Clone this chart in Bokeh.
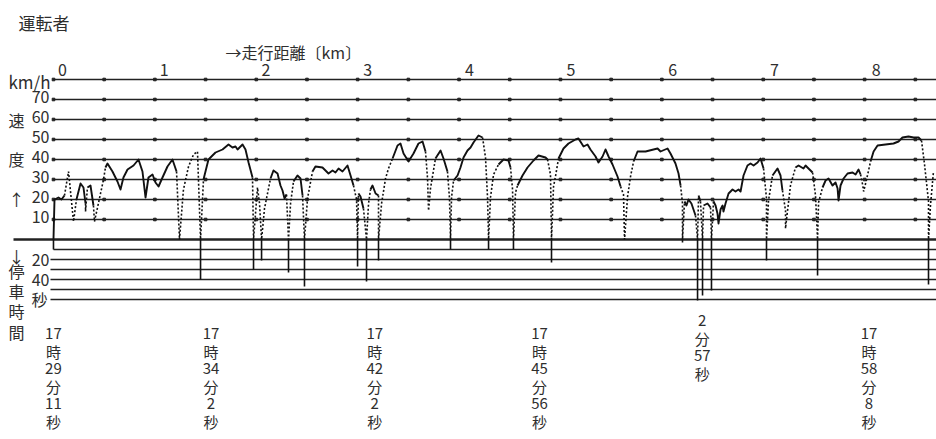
import re
import numpy as np
from bokeh.plotting import figure
from bokeh.models import Range1d
from bokeh.core.properties import value
from bokeh.embed import file_html
from bokeh.resources import INLINE

# ---------------- data ----------------
title_text = "運転者"
distance_title = "→走行距離〔km〕"
km_ticks = [0, 1, 2, 3, 4, 5, 6, 7, 8]
speed_ticks = [70, 60, 50, 40, 30, 20, 10]
speed_lines = [80, 70, 60, 50, 40, 30, 20, 10]
stop_ticks = [20, 40]
stop_lines = [10, 20, 30, 40, 50, 60]

trace_km = [
    -0.069, -0.059, -0.020, 0.010, 0.039, 0.079, 0.118, 0.128, 0.157, 0.197,
    0.226, 0.246, 0.246, 0.265, 0.295, 0.324, 0.334, 0.364, 0.423, 0.442,
    0.462, 0.511, 0.560, 0.590, 0.619, 0.659, 0.718, 0.767, 0.806, 0.836,
    0.865, 0.905, 0.934, 0.964, 1.003, 1.052, 1.101, 1.141, 1.170, 1.209,
    1.259, 1.308, 1.347, 1.377, 1.406, 1.455, 1.524, 1.593, 1.652, 1.691,
    1.721, 1.741, 1.790, 1.819, 1.849, 1.888, 1.898, 1.937, 1.957, 1.977,
    2.006, 2.065, 2.094, 2.134, 2.163, 2.183, 2.203, 2.222, 2.242, 2.262,
    2.291, 2.330, 2.360, 2.380, 2.399, 2.429, 2.478, 2.507, 2.576, 2.635,
    2.675, 2.704, 2.734, 2.773, 2.822, 2.852, 2.881, 2.911, 2.921, 2.930,
    2.950, 2.979, 3.009, 3.029, 3.048, 3.068, 3.098, 3.127, 3.127, 3.157,
    3.196, 3.225, 3.265, 3.314, 3.343, 3.373, 3.422, 3.471, 3.520, 3.560,
    3.589, 3.609, 3.619, 3.638, 3.687, 3.737, 3.766, 3.805, 3.825, 3.835,
    3.845, 3.865, 3.904, 3.933, 3.963, 4.002, 4.032, 4.061, 4.110, 4.150,
    4.179, 4.199, 4.209, 4.228, 4.258, 4.307, 4.356, 4.405, 4.425, 4.445,
    4.454, 4.474, 4.494, 4.543, 4.592, 4.651, 4.700, 4.769, 4.789, 4.818,
    4.828, 4.848, 4.867, 4.897, 4.946, 4.995, 5.064, 5.093, 5.143, 5.182,
    5.211, 5.261, 5.290, 5.330, 5.359, 5.389, 5.428, 5.477, 5.507, 5.536,
    5.546, 5.576, 5.605, 5.635, 5.674, 5.753, 5.831, 5.871, 5.900, 5.969,
    5.998, 6.047, 6.077, 6.097, 6.116, 6.116, 6.136, 6.155, 6.175, 6.204,
    6.224, 6.244, 6.264, 6.274, 6.293, 6.313, 6.323, 6.362, 6.392, 6.401,
    6.421, 6.441, 6.460, 6.470, 6.490, 6.510, 6.519, 6.539, 6.569, 6.608,
    6.637, 6.667, 6.687, 6.716, 6.755, 6.785, 6.815, 6.854, 6.883, 6.913,
    6.942, 6.942, 6.962, 7.001, 7.050, 7.080, 7.099, 7.129, 7.129, 7.149,
    7.178, 7.227, 7.257, 7.306, 7.326, 7.355, 7.395, 7.424, 7.444, 7.454,
    7.493, 7.523, 7.552, 7.591, 7.621, 7.641, 7.650, 7.670, 7.700, 7.739,
    7.788, 7.818, 7.847, 7.867, 7.887, 7.897, 7.926, 7.965, 7.995, 8.034,
    8.112, 8.191, 8.240, 8.279, 8.338, 8.388, 8.437, 8.466, 8.496, 8.535,
    8.535, 8.555, 8.584,
]
trace_kmh = [
    0, 20, 21, 20, 22, 34, 14, 9, 20, 28,
    26, 18, 14, 26, 27, 17, 9, 16, 30, 36,
    38, 34, 29, 25, 31, 35, 37, 40, 34, 21,
    31, 32.5, 28.5, 26.5, 31, 36.5, 40, 34, 0, 25,
    36.5, 42.5, 44, 0, 30, 40, 43.5, 45, 47.5, 46,
    46.5, 45, 47.5, 45, 38.5, 31, 0, 26, 18, 0,
    15.5, 30.5, 34.5, 33, 27, 24.5, 20.5, 22.5, 0, 18,
    29, 32, 30.5, 22, 0, 20.5, 34, 36.5, 36, 33,
    34.5, 33.5, 35.5, 34, 37, 32, 27, 20, 0, 23,
    21.5, 15.5, 0, 18, 25, 27, 23, 22, 0, 18,
    30.5, 35.5, 40.5, 47, 48, 43, 39, 43, 48, 49,
    44, 30.5, 14.5, 25.5, 40.5, 44.5, 40.5, 34, 20.5, 0,
    21, 29.5, 32, 36, 41, 44.5, 46, 48.5, 52, 51,
    41, 21, 0, 21, 32.5, 37.5, 40, 39.5, 36, 25,
    0, 23.5, 27, 32, 36, 39.5, 42, 41, 40, 32.5,
    0, 26.5, 31.5, 40.5, 45.5, 48, 50, 50.5, 46.5, 47.5,
    45, 41.5, 38.5, 41.5, 45, 41.5, 37.5, 31.5, 26.5, 22.5,
    0, 21.5, 31.5, 39, 44, 44, 45, 45.5, 44, 45.5,
    43, 38, 33, 27, 18, 0, 19, 17, 20, 18,
    15, 12, 0, 22, 19, 0, 17, 18, 16, 0,
    19, 17, 13, 8, 15, 17, 14, 18, 23, 25,
    24, 25, 24, 32, 37, 38, 37, 38.5, 40.5, 35.5,
    20.5, 0, 19.5, 32, 35.5, 32, 24.5, 14.5, 5.5, 14.5,
    27, 36, 37, 35.5, 37, 35.5, 33.5, 22, 0, 18.5,
    26, 29.5, 30.5, 27, 28.5, 25.5, 19.5, 27, 30.5, 33,
    33.5, 32.5, 35, 32.5, 27.5, 24, 30, 39, 44, 47,
    47.5, 48, 49, 51, 51.5, 51, 51, 49.5, 37.5, 19,
    0, 17.5, 34,
]
# pen of the stroke from each point to the next: S = solid, D = dotted
trace_pen = (
    "SSSSDDDDSS" "SDDSSDDDDS" "SSSSSSSSSS" "SSSSSSSDDD" "DDDDSSSSSS"
    "SSSSSDDDDD" "DSSSSSSDDD" "SSSDDDSSSS" "SSSSSSDDDS" "SDDDSSSDDD"
    "DDSSSSSSSS" "DDDDSSSDDD" "DSSSSSSSSD" "DDDDDSSSDD" "DDSSSSSSDD"
    "DDDSSSSSSS" "SSSSSSSSDD" "DDDSSSSSSS" "SSSDDDSSSS" "SDDSDDSSDD"
    "SSSSSSSSSS" "SSSSSSSSSD" "DDDSSSDDDD" "DSSSSSDDDD" "SSSSSSSSSS"
    "SSSDDDDSSS" "SSSSSSSDDD" "DDD"
)

stop_km = [-0.069, 1.377, 1.898, 1.977, 2.242, 2.399, 2.921, 3.009, 3.127, 3.835,
           4.209, 4.454, 4.828, 6.116, 6.264, 6.313, 6.401, 6.942, 7.444, 8.535]
stop_sec = [10, 40, 30, 21, 33, 47, 27, 42, 21, 10,
            10, 10, 23, 3, 177, 56, 51, 21, 36, 45]

time_labels = ["17時29分11秒", "17時34分2秒", "17時42分2秒", "17時45分56秒", "2分57秒", "17時58分8秒"]
time_label_km = [-0.07, 1.48, 3.09, 4.71, 6.31, 7.95]

assert len(trace_km) == len(trace_kmh) == len(trace_pen)

# ---------------- layout helpers ----------------
PX_PER_KM = 101.7   # page pixels per km
X0 = 60             # page x of km 0
Y0 = 239            # page y of 0 km/h
W, H = 936, 439

def kx(X):
    return (X - X0) / PX_PER_KM

def vy(Y):
    return (Y0 - Y) / 2.0

FONT = value("Noto Sans CJK JP")
INK = "#222222"
TXT = "#2e2e2e"

p = figure(width=W, height=H,
           x_range=Range1d(kx(0), kx(W)), y_range=Range1d(vy(H), vy(0)),
           output_backend="svg", toolbar_location=None,
           x_axis_location=None, y_axis_location=None,
           min_border=0, outline_line_color=None, background_fill_color="white")
p.grid.visible = False

x_end = kx(940)

# speed grid lines
p.segment(x0=[kx(53)] * len(speed_lines), x1=[x_end] * len(speed_lines),
          y0=speed_lines, y1=speed_lines, line_color=INK, line_width=1.7)
# zero line
p.segment(x0=[kx(13)], x1=[x_end], y0=[0], y1=[0], line_color=INK, line_width=2.6)
# stop-time lines (10 s = 5 km/h units)
stop_y = [-s / 2.0 for s in stop_lines]
stop_x0 = [kx(53) if s == 10 else kx(50) for s in stop_lines]
p.segment(x0=stop_x0, x1=[x_end] * len(stop_lines), y0=stop_y, y1=stop_y,
          line_color=INK, line_width=1.7)

# small marks along speed lines
mark_x = np.arange(-0.069, 8.6, 0.4985)
mx, my = [], []
for lv in speed_lines:
    for m in mark_x:
        mx.append(m); my.append(lv)
p.scatter(mx, my, marker="square", size=2.6, color=INK)

# speed trace, merged into solid / dotted polylines
groups = {"S": ([], []), "D": ([], [])}
cur = None
for i in range(len(trace_km) - 1):
    st = trace_pen[i]
    if st != cur:
        groups[st][0].append([trace_km[i]])
        groups[st][1].append([trace_kmh[i]])
        cur = st
    groups[st][0][-1].append(trace_km[i + 1])
    groups[st][1][-1].append(trace_kmh[i + 1])
p.multi_line(groups["S"][0], groups["S"][1], line_color="#111111", line_width=1.9,
             line_join="round")
p.multi_line(groups["D"][0], groups["D"][1], line_color="#111111", line_width=1.6,
             line_dash="2 2")

# stop-duration bars (off-scale stops reach the bottom line)
p.segment(x0=stop_km, x1=stop_km, y0=[0] * len(stop_km),
          y1=[-min(s, 61) / 2.0 for s in stop_sec], line_color="#111111", line_width=1.6)

# ---------------- texts ----------------
def put(texts, xs, ys, size="16px", align="left", baseline="middle"):
    p.text(x=xs, y=ys, text=texts, text_font=FONT, text_font_size=size,
           text_color=TXT, text_align=align, text_baseline=baseline)

put([title_text], [kx(18)], [vy(22)], size="17px")
put([distance_title], [kx(225)], [vy(51)], size="16px")
put([str(k) for k in km_ticks], [k + 0.02 for k in km_ticks], [vy(69)] * len(km_ticks),
    size="16px", align="center")
put(["km/h"], [kx(50)], [vy(81)], size="17px", align="right")
put([str(s) for s in speed_ticks], [kx(49)] * len(speed_ticks),
    [s + 1.2 for s in speed_ticks], size="16px", align="right")
put([str(s) for s in stop_ticks], [kx(49)] * len(stop_ticks),
    [-s / 2.0 for s in stop_ticks], size="16px", align="right")

side_chars = ["速", "度", "↑", "↓", "停", "車", "時", "間"]
side_y = [119, 158, 198, 255, 270, 290, 310, 331]
put(side_chars, [kx(16)] * len(side_chars), [vy(Y) for Y in side_y], size="16px",
    align="center")
put(["秒"], [kx(39)], [vy(298)], size="16px", align="center")

# stacked time labels under the chart
tx, ty, tt = [], [], []
for lab, k in zip(time_labels, time_label_km):
    parts = re.findall(r"\d+|\D", lab)
    top = 320 if not lab.startswith("17") else 333
    for j, part in enumerate(parts):
        tx.append(k); ty.append(vy(top + j * 17.6)); tt.append(part)
put(tt, tx, ty, size="15px", align="center")

open("out.html", "w").write(file_html(p, INLINE))
